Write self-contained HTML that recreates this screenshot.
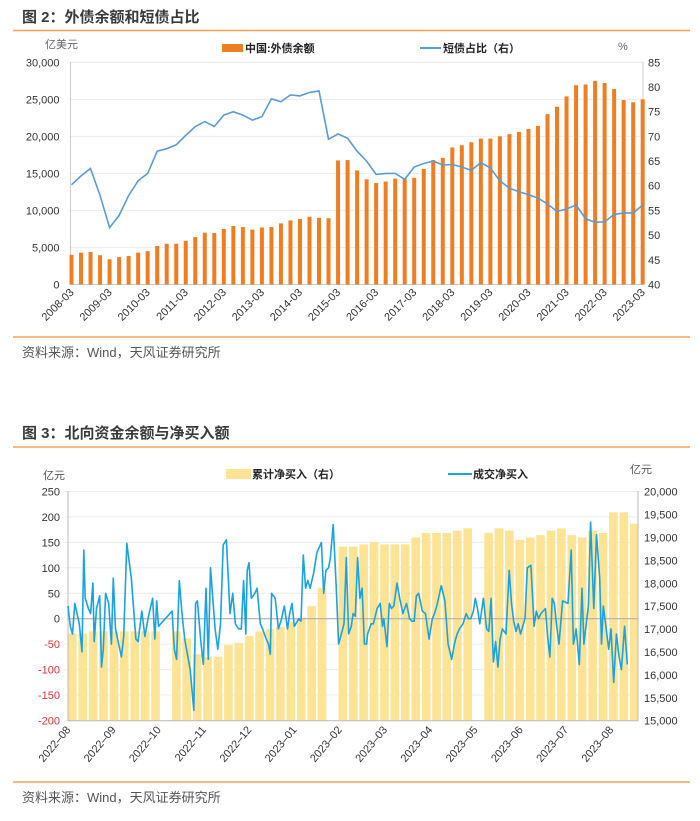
<!DOCTYPE html>
<html><head><meta charset="utf-8">
<style>
html,body{margin:0;padding:0;background:#fff;}
svg{display:block;font-family:"Liberation Sans","Noto Sans CJK SC",sans-serif;}
</style></head>
<body>
<svg id="root" width="700" height="821" viewBox="0 0 700 821" xmlns="http://www.w3.org/2000/svg">
  <text x="22" y="22" font-size="15" font-weight="bold" fill="#3a3a3a">图 2：外债余额和短债占比</text>
  <line x1="13" y1="30.5" x2="690" y2="30.5" stroke="#f5a15c" stroke-width="1.5"/>
  <line x1="13" y1="337" x2="690" y2="337" stroke="#f5a15c" stroke-width="1.5"/>
  <text x="22" y="357" font-size="13" fill="#555">资料来源：Wind，天风证券研究所</text>
  <text x="22" y="438" font-size="15" font-weight="bold" fill="#3a3a3a">图 3：北向资金余额与净买入额</text>
  <line x1="13" y1="447" x2="690" y2="447" stroke="#f5a15c" stroke-width="1.5"/>
  <line x1="13" y1="782" x2="690" y2="782" stroke="#f5a15c" stroke-width="1.5"/>
  <text x="22" y="802" font-size="13" fill="#555">资料来源：Wind，天风证券研究所</text>
  <g id="c1"></g>
  <g id="c2"></g>
</svg>
<script>
// ---------- Chart 1 data ----------
const debtQuarters = ["2008-03","2009-03","2010-03","2011-03","2012-03","2013-03","2014-03","2015-03","2016-03","2017-03","2018-03","2019-03","2020-03","2021-03","2022-03","2023-03"];
const debtValues = [4000,4300,4400,3950,3400,3700,3850,4300,4500,5200,5500,5500,5900,6400,7000,6950,7500,7900,7750,7400,7700,7750,8250,8650,8850,9150,9000,8950,16750,16800,15400,14200,13700,13900,14300,14300,14400,15600,16800,17100,18500,18800,19200,19700,19700,20000,20300,20600,21000,21400,23000,24000,25400,26900,27000,27500,27200,26400,24900,24600,25000];
const shortShare = [60.2,62,63.5,58,51.5,54,58,61,62.5,67,67.5,68.3,70.2,72,73,72,74.3,75,74.3,73.3,74,77.6,77,78.4,78.2,78.9,79.2,69.4,70.5,69.6,67,65,62.3,62.5,62.5,61.3,63.8,64.5,65,64.2,64.3,63.8,63.1,64.7,63.6,61,59.5,58.8,58.2,57.5,56.3,54.8,55.3,56.1,53.3,52.6,52.7,54.2,54.5,54.5,56.1];
const leftTicks1 = [0,5000,10000,15000,20000,25000,30000];
const rightTicks1 = [40,45,50,55,60,65,70,75,80,85];

// ---------- Chart 2 data ----------
const netBuyMonth = [0,0.05,0.1,0.15,0.25,0.31,0.35,0.38,0.45,0.5,0.55,0.58,0.63,0.7,0.74,0.78,0.83,0.9,0.96,1.0,1.05,1.12,1.18,1.23,1.3,1.4,1.5,1.55,1.63,1.7,1.78,1.87,1.92,1.96,2.0,2.3,2.35,2.4,2.46,2.52,2.58,2.63,2.7,2.78,2.82,2.86,2.93,2.99,3.05,3.1,3.15,3.25,3.31,3.37,3.43,3.5,3.58,3.64,3.7,3.77,3.83,3.88,3.93,3.96,4.0,4.05,4.13,4.18,4.25,4.3,4.38,4.43,4.47,4.5,4.58,4.65,4.72,4.78,4.85,4.9,4.95,5.0,5.1,5.15,5.2,5.25,5.3,5.35,5.43,5.5,5.6,5.65,5.7,5.76,5.8,5.86,5.93,5.98,6.01,6.1,6.15,6.2,6.26,6.3,6.35,6.4,6.45,6.5,6.55,6.6,6.62,6.7,6.75,6.83,6.9,6.95,6.98,7.05,7.1,7.15,7.2,7.27,7.33,7.4,7.48,7.55,7.6,7.65,7.7,7.75,7.83,7.9,7.98,8.05,8.1,8.15,8.25,8.33,8.4,8.48,8.55,8.6,8.65,8.73,8.8,8.85,8.9,8.96,9.0,9.05,9.1,9.18,9.25,9.3,9.35,9.4,9.45,9.5,9.55,9.6,9.68,9.75,9.8,9.85,9.9,9.95,10.0,10.1,10.15,10.23,10.3,10.35,10.4,10.45,10.55,10.6,10.65,10.7,10.75,10.8,10.85,10.93,11.05,11.12,11.17,11.23,11.3,11.36,11.4,11.5,11.55,11.62,11.68,11.75,11.79,11.83,11.88,11.95,12.0,12.06,12.12,12.18,12.23,12.3,12.36,12.42,12.48,12.52,12.58];
const netBuyValues = [25,-15,-30,30,-10,-65,135,40,20,10,70,-45,20,45,-95,-60,50,30,-50,80,-20,-50,-75,-35,148,80,-40,-45,15,-35,5,40,-40,35,-15,15,-60,-80,75,10,-40,-65,-100,-180,30,35,-40,-90,60,-80,100,-20,-60,-10,145,155,10,50,-10,-20,-20,75,-30,95,110,40,50,60,-10,-20,-40,-50,-70,50,40,-20,0,25,-20,10,30,-15,0,-5,125,60,75,60,90,130,150,50,95,100,120,185,60,-50,-40,-10,120,-30,-15,10,5,120,40,60,-50,-50,-30,-10,-10,20,30,-15,0,-55,30,20,25,70,40,10,30,0,-5,-5,45,50,15,10,-40,0,10,25,65,35,-50,-80,-45,-30,-20,-10,10,0,0,15,40,20,-10,40,-20,-25,40,-85,-45,-95,-40,-20,-30,95,30,-5,-25,-10,-30,0,100,105,-15,15,0,10,20,-35,-75,40,30,-15,-50,35,30,135,-50,-20,-90,60,-50,25,190,20,165,80,-50,25,-10,-60,-20,-125,-30,-75,-100,-15,-90];
const cumWeekly = [16900,16900,16950,16950,16950,16950,16950,16950,16950,null,16950,16800,16450,16400,16400,16650,16700,16850,16950,17000,17050,17150,17250,17500,17900,null,18800,18800,18850,18900,18850,18850,18850,19000,19100,19100,19100,19150,19200,null,19100,19200,19150,18950,19000,19050,19150,19200,19050,19000,19150,19100,19550,19550,19300,19150];
const monthLabels = ["2022-08","2022-09","2022-10","2022-11","2022-12","2023-01","2023-02","2023-03","2023-04","2023-05","2023-06","2023-07","2023-08"];
const leftTicks2 = [-200,-150,-100,-50,0,50,100,150,200,250];
const rightTicks2 = [15000,15500,16000,16500,17000,17500,18000,18500,19000,19500,20000];

const NS = "http://www.w3.org/2000/svg";
function mk(parent, tag, attrs, text){
  const e = document.createElementNS(NS, tag);
  for (const k in attrs) e.setAttribute(k, attrs[k]);
  if (text !== undefined) e.textContent = text;
  parent.appendChild(e);
  return e;
}

// ===== Chart 1 =====
(function(){
  const g = document.getElementById('c1');
  const X0 = 71.5, DX = 9.52, XR = 642;
  const yL = v => 284.5 - v / 30000 * 222.2;
  const yR = v => 284.5 - (v - 40) / 45 * 222.2;
  const xi = i => X0 + i * DX;

  leftTicks1.forEach(t => {
    const gl = mk(g, 'line', {x1: X0 - 2, x2: XR, y1: yL(t), y2: yL(t), stroke: t === 0 ? '#c8c8c8' : '#ececec', 'stroke-width': 1});
    
    
    const tl = mk(g, 'text', {x: X0 - 12, y: yL(t) + 4, 'font-size': 11, fill: '#333', 'text-anchor': 'end'}, t.toLocaleString('en-US'));
    
    
  });
  rightTicks1.forEach(t => {
    const tl = mk(g, 'text', {x: XR + 6, y: yR(t) + 4, 'font-size': 11, fill: '#333'}, String(t));
    
    
  });
  const ax = mk(g, 'line', {x1: X0 - 1, x2: X0 - 1, y1: 62, y2: 285, stroke: '#ccc'});
  
  
  const ax2 = mk(g, 'line', {x1: XR + 1, x2: XR + 1, y1: 62, y2: 285, stroke: '#ccc'});
  
  

  debtValues.forEach((v, i) => {
    const b = mk(g, 'rect', {x: xi(i) - 2, y: yL(v), width: 4, height: yL(0) - yL(v), fill: '#ef7d22'});
    
    
  });
  const pts = shortShare.map((v, i) => xi(i).toFixed(1) + ',' + yR(v).toFixed(1)).join(' ');
  const pl = mk(g, 'polyline', {points: pts, fill: 'none', stroke: '#5b9bd5', 'stroke-width': 1.6});
  
  

  debtQuarters.forEach((q, k) => {
    const x = xi(k * 4);
    const tl = mk(g, 'text', {x: x + 3, y: 293, 'font-size': 11, fill: '#333', 'text-anchor': 'end', transform: 'rotate(-45 ' + (x + 3) + ' 293)'}, q);
    
    
  });

  const u1 = mk(g, 'text', {x: 45, y: 48, 'font-size': 11, fill: '#666'}, '亿美元');
  
  
  const u2 = mk(g, 'text', {x: 618, y: 50, 'font-size': 11, fill: '#666'}, '%');
  
  
  const lr = mk(g, 'rect', {x: 222, y: 44, width: 21, height: 8, fill: '#ef7d22'});
  
  
  const lt = mk(g, 'text', {x: 245, y: 52, 'font-size': 11, 'font-weight': 'bold', fill: '#222'}, '中国:外债余额');
  
  
  const ll = mk(g, 'line', {x1: 420, x2: 441, y1: 48, y2: 48, stroke: '#5b9bd5', 'stroke-width': 2});
  
  
  const lt2 = mk(g, 'text', {x: 443, y: 52, 'font-size': 11, 'font-weight': 'bold', fill: '#222'}, '短债占比（右）');
  
  
})();

// ===== Chart 2 =====
(function(){
  const g = document.getElementById('c2');
  const X0 = 68, XR = 638, MW = 45.25;
  const xm = m => X0 + m * MW;
  const yL = v => 618.7 - v * 0.5089;
  const yR = v => 491.7 + (20000 - v) * 0.0458;

  const clip = mk(g, 'clipPath', {id: 'plot2clip'});
  mk(clip, 'rect', {x: X0, y: 480, width: XR - X0, height: 245});

  leftTicks2.forEach(t => {
    const gl = mk(g, 'line', {x1: X0 - 3, x2: XR, y1: yL(t), y2: yL(t), stroke: '#ececec', 'stroke-width': 1});
    
    
    const tl = mk(g, 'text', {x: X0 - 8, y: yL(t) + 4, 'font-size': 11, fill: t < 0 ? '#e0323a' : '#333', 'text-anchor': 'end'}, String(t));
    
    
  });
  rightTicks2.forEach(t => {
    const tl = mk(g, 'text', {x: XR + 6, y: yR(t) + 4, 'font-size': 11, fill: '#333'}, t.toLocaleString('en-US'));
    
    
  });

  const bars = mk(g, 'g', {'clip-path': 'url(#plot2clip)'});
  
  
  const weekMonths = 7 / 30.44;
  cumWeekly.forEach((v, w) => {
    if (v === null) return;
    const x = xm(w * weekMonths);
    const b = mk(bars, 'rect', {x: x, y: yR(v), width: 8.6, height: yR(15000) - yR(v), fill: '#fde394'});
    
    
  });

  const zl = mk(g, 'line', {x1: X0, x2: XR, y1: yL(0), y2: yL(0), stroke: '#aaa', 'stroke-width': 1});
  
  
  const ax = mk(g, 'line', {x1: X0, x2: X0, y1: 491, y2: 721, stroke: '#bbb'});
  
  
  const ax2 = mk(g, 'line', {x1: XR, x2: XR, y1: 491, y2: 721, stroke: '#bbb'});
  
  
  const axb = mk(g, 'line', {x1: X0, x2: XR, y1: 720.7, y2: 720.7, stroke: '#bbb'});
  
  

  const pts = netBuyValues.map((v, i) => xm(netBuyMonth[i]).toFixed(1) + ',' + yL(v).toFixed(1)).join(' ');
  const pl = mk(g, 'polyline', {points: pts, fill: 'none', stroke: '#1aa3de', 'stroke-width': 1.6, 'stroke-linejoin': 'round'});
  
  

  monthLabels.forEach((m, k) => {
    const x = xm(k);
    const tl = mk(g, 'text', {x: x + 3, y: 730, 'font-size': 11, fill: '#333', 'text-anchor': 'end', transform: 'rotate(-50 ' + (x + 3) + ' 730)'}, m.replace('-', '–'));
    
    
  });

  const u1 = mk(g, 'text', {x: 43, y: 479, 'font-size': 11, fill: '#555'}, '亿元');
  
  
  const u2 = mk(g, 'text', {x: 630, y: 473, 'font-size': 11, fill: '#555'}, '亿元');
  
  
  const lr = mk(g, 'rect', {x: 226, y: 469, width: 25, height: 10, fill: '#fde394'});
  
  
  const lt = mk(g, 'text', {x: 252, y: 478, 'font-size': 11, 'font-weight': 'bold', fill: '#222'}, '累计净买入（右）');
  
  
  const ll = mk(g, 'line', {x1: 448, x2: 472, y1: 474, y2: 474, stroke: '#1aa3de', 'stroke-width': 2});
  
  
  const lt2 = mk(g, 'text', {x: 473, y: 478, 'font-size': 11, 'font-weight': 'bold', fill: '#222'}, '成交净买入');
  
  
})();
</script>
</body></html>
